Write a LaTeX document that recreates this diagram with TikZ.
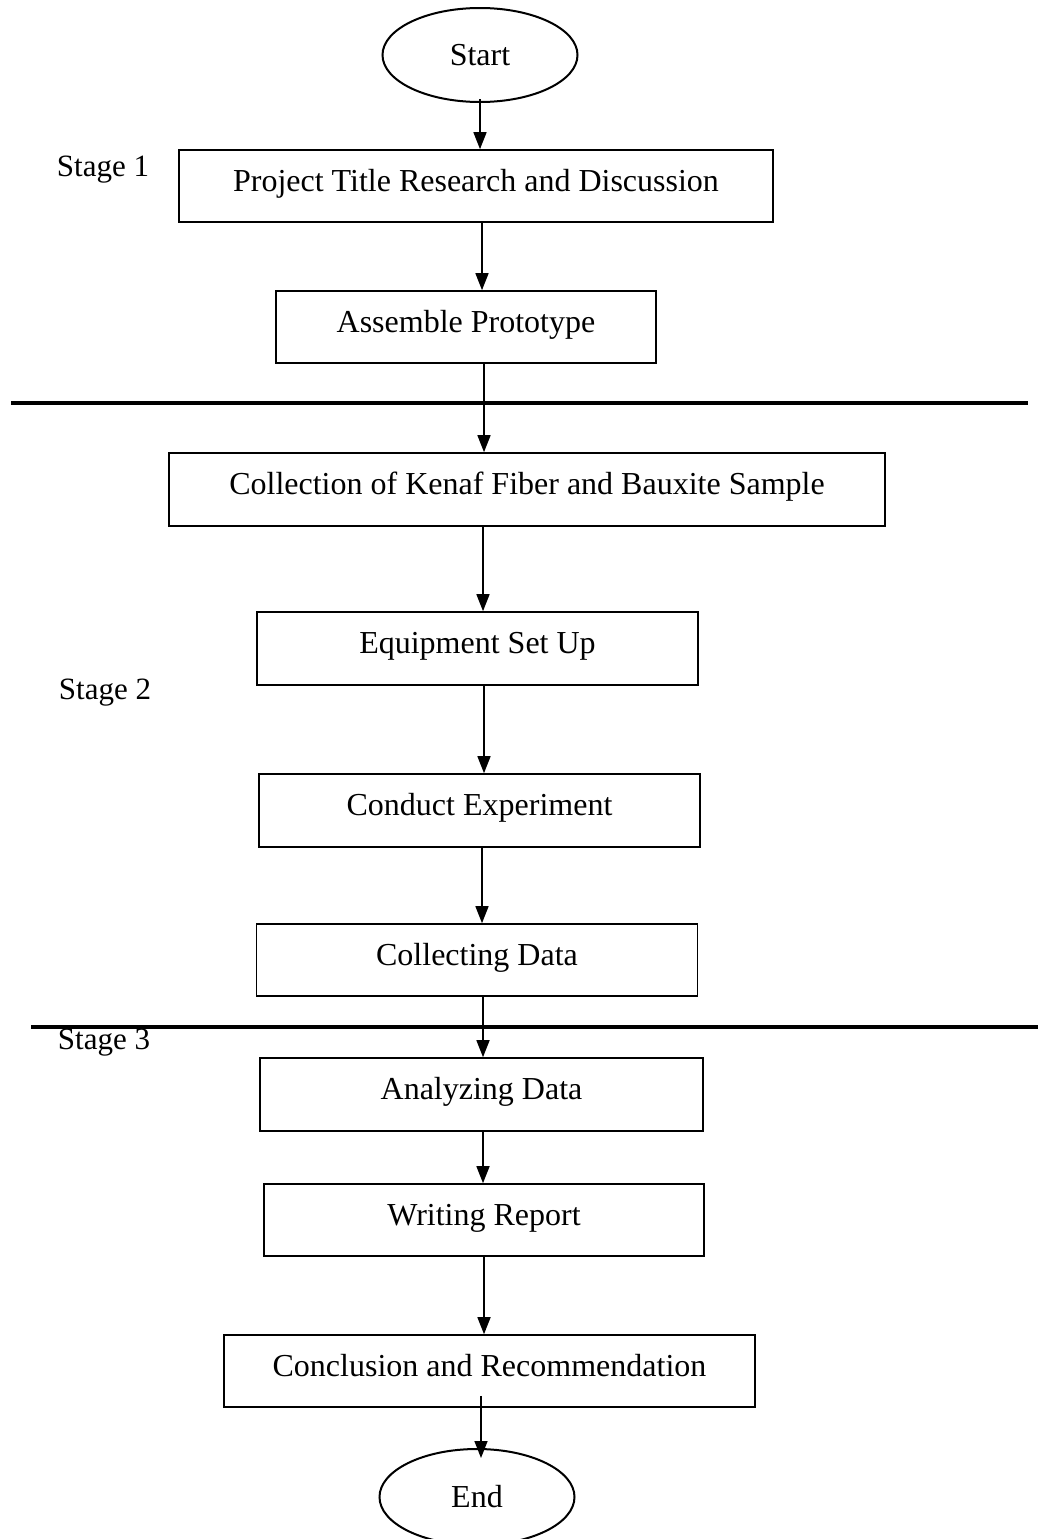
\documentclass[tikz,border=0pt]{standalone}
\usepackage{fontspec}
\setmainfont{Liberation Serif}
\usetikzlibrary{arrows.meta,shapes.geometric}
\tikzset{
  every node/.style={font=\fontsize{32}{38}\selectfont},
  box/.style={draw, line width=1.6pt, rectangle, inner sep=0pt, text height=22pt, text depth=12pt},
  term/.style={draw, line width=2pt, ellipse, inner sep=0pt},
  stagelbl/.style={inner sep=0pt, font=\fontsize{31}{37}\selectfont},
  arr/.style={line width=1.5pt, -{Triangle[width=13pt,length=17pt]}},
  sepline/.style={line width=3.3pt}
}
\begin{document}
\begin{tikzpicture}[x=1pt,y=-1pt]
\useasboundingbox (0,0) rectangle (1038,1539);
\node[term, minimum width=195pt, minimum height=94pt] (start) at (480,55) {Start};
\node[box, minimum width=594pt, minimum height=72pt] (b1) at (476,186) {Project Title Research and Discussion};
\node[box, minimum width=380pt, minimum height=72pt] (b2) at (466,327) {Assemble Prototype};
\node[box, minimum width=716pt, minimum height=73pt] (b3) at (527,489.5) {Collection of Kenaf Fiber and Bauxite Sample};
\node[box, minimum width=441pt, minimum height=73pt] (b4) at (477.5,648.5) {Equipment Set Up};
\node[box, minimum width=441pt, minimum height=73pt] (b5) at (479.5,810.5) {Conduct Experiment};
\node[box, minimum width=441pt, minimum height=72pt] (b6) at (477,960) {Collecting Data};
\node[box, minimum width=443pt, minimum height=73pt] (b7) at (481.5,1094.5) {Analyzing Data};
\node[box, minimum width=440pt, minimum height=72pt] (b8) at (484,1220) {Writing Report};
\node[box, minimum width=531pt, minimum height=72pt] (b9) at (489.5,1371) {Conclusion and Recommendation};
\node[term, minimum width=195pt, minimum height=96pt] (end) at (477,1497) {End};

\node[stagelbl] (s1) at (103,170) {Stage 1};
\node[stagelbl] (s2) at (105,693) {Stage 2};
\node[stagelbl] (s3) at (104,1043) {Stage 3};

\draw[sepline] (11,403) -- (1028,403);
\draw[sepline] (31,1027) -- (1038,1027);

\draw[arr] ([yshift=4pt]start.south) -- (start.south |- b1.north);
\draw[arr] ([xshift=6pt]b1.south) -- ([xshift=6pt]b1.south |- b2.north);
\draw[arr] ([xshift=18pt]b2.south) -- ([xshift=18pt]b2.south |- b3.north);
\draw[arr] ([xshift=-44pt]b3.south) -- ([xshift=-44pt]b3.south |- b4.north);
\draw[arr] ([xshift=6.5pt]b4.south) -- ([xshift=6.5pt]b4.south |- b5.north);
\draw[arr] ([xshift=2.5pt]b5.south) -- ([xshift=2.5pt]b5.south |- b6.north);
\draw[arr] ([xshift=6pt]b6.south) -- ([xshift=6pt]b6.south |- b7.north);
\draw[arr] ([xshift=1.5pt]b7.south) -- ([xshift=1.5pt]b7.south |- b8.north);
\draw[arr] (b8.south) -- (b8.south |- b9.north);
\draw[arr] ([xshift=-8.5pt,yshift=12pt]b9.south) -- ([xshift=-8.5pt,yshift=-10pt]b9.south |- end.north);
\end{tikzpicture}
\end{document}
